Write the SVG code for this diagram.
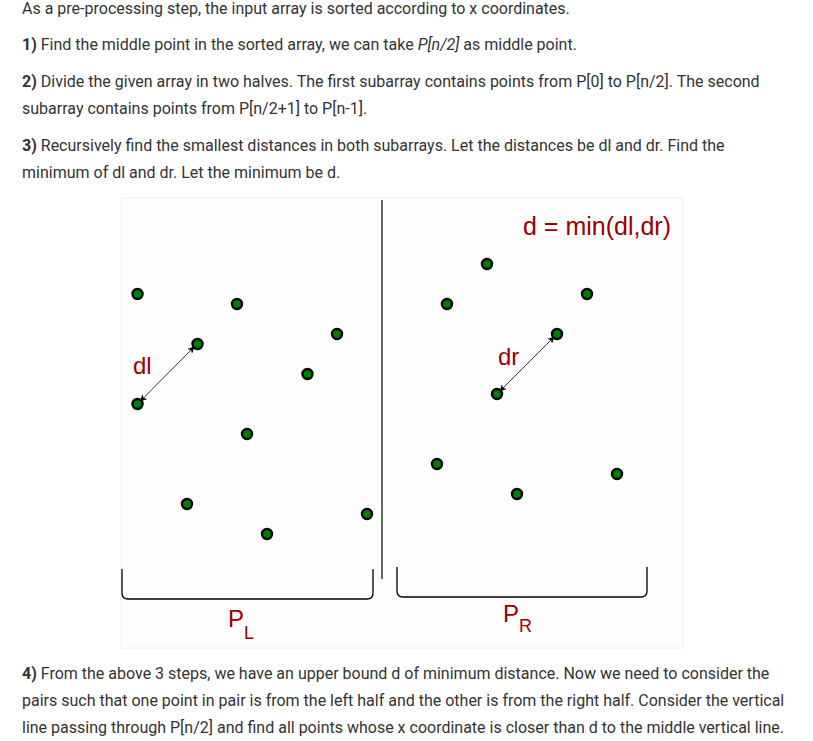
<svg xmlns="http://www.w3.org/2000/svg" width="813" height="741" viewBox="0 0 813 741">
<style>
.t{font-family:Roboto,"Liberation Sans",sans-serif;font-size:16px;fill:#333}
.b{font-weight:bold}
.i{font-style:italic}
.pt{fill:#008000;stroke:#000;stroke-width:2.4}
.lab{font-family:"Liberation Sans",Arial,sans-serif;fill:#990000}
.br{fill:none;stroke:#000;stroke-width:1.3}
.ar{stroke:#000;stroke-width:0.8;fill:none;marker-start:url(#ah);marker-end:url(#ah)}
</style>
<defs>
<marker id="ah" viewBox="0 0 10 10" refX="9" refY="5" markerWidth="7" markerHeight="7" orient="auto-start-reverse" markerUnits="userSpaceOnUse">
<path d="M0,0 L10,5 L0,10 L3,5 Z" fill="#000"/>
</marker>
</defs>
<rect width="813" height="741" fill="#fff"/>
<g id="text-top">
<text class="t" x="22" y="14">As a pre-processing step, the input array is sorted according to x coordinates.</text>
<text class="t" x="22" y="50"><tspan class="b">1)</tspan> Find the middle point in the sorted array, we can take <tspan class="i">P[n/2]</tspan> as middle point.</text>
<text class="t" x="22" y="87"><tspan class="b">2)</tspan> Divide the given array in two halves. The first subarray contains points from P[0] to P[n/2]. The second</text>
<text class="t" x="22" y="114">subarray contains points from P[n/2+1] to P[n-1].</text>
<text class="t" x="22" y="151"><tspan class="b">3)</tspan> Recursively find the smallest distances in both subarrays. Let the distances be dl and dr. Find the</text>
<text class="t" x="22" y="178">minimum of dl and dr. Let the minimum be d.</text>
</g>
<g id="panel">
<rect x="121" y="198" width="562" height="450" fill="#fdfdfd" stroke="#f0f0f0" stroke-width="1"/>
<line x1="382" y1="200" x2="382" y2="579" stroke="#000" stroke-width="1.2"/>
</g>
<g id="connectors">
<line class="ar" x1="140.5" y1="401" x2="194" y2="347"/>
<line class="ar" x1="500" y1="391" x2="554" y2="337"/>
<path id="bracket-left" class="br" d="M122,569 V593 Q122,599 128,599 H367 Q373,599 373,593 V569"/>
<path id="bracket-right" class="br" d="M397,567 V591 Q397,597 403,597 H641 Q647,597 647,591 V567"/>
</g>
<g id="points-left">
<circle class="pt" cx="137.5" cy="294" r="5"/>
<circle class="pt" cx="237" cy="304" r="5"/>
<circle class="pt" cx="197.5" cy="344" r="5"/>
<circle class="pt" cx="337" cy="334" r="5"/>
<circle class="pt" cx="307.5" cy="374" r="5"/>
<circle class="pt" cx="137.5" cy="404" r="5"/>
<circle class="pt" cx="247" cy="434" r="5"/>
<circle class="pt" cx="187" cy="504" r="5"/>
<circle class="pt" cx="267" cy="534" r="5"/>
<circle class="pt" cx="367" cy="514" r="5"/>
</g>
<g id="points-right">
<circle class="pt" cx="487" cy="264" r="5"/>
<circle class="pt" cx="447" cy="304" r="5"/>
<circle class="pt" cx="587" cy="294" r="5"/>
<circle class="pt" cx="557" cy="334" r="5"/>
<circle class="pt" cx="497" cy="394" r="5"/>
<circle class="pt" cx="437" cy="464" r="5"/>
<circle class="pt" cx="517" cy="494" r="5"/>
<circle class="pt" cx="617" cy="474" r="5"/>
</g>
<g id="labels">
<text class="lab" x="133" y="374" font-size="24">dl</text>
<text class="lab" x="498" y="365" font-size="24">dr</text>
<text class="lab" x="523" y="235" font-size="25">d = min(dl,dr)</text>
<text class="lab" x="228" y="627" font-size="24">P<tspan font-size="18" dy="12">L</tspan></text>
<text class="lab" x="503" y="622" font-size="24">P<tspan font-size="18" dy="10">R</tspan></text>
</g>
<g id="text-bottom">
<text class="t" x="22" y="679"><tspan class="b">4)</tspan> From the above 3 steps, we have an upper bound d of minimum distance. Now we need to consider the</text>
<text class="t" x="22" y="706">pairs such that one point in pair is from the left half and the other is from the right half. Consider the vertical</text>
<text class="t" x="22" y="733">line passing through P[n/2] and find all points whose x coordinate is closer than d to the middle vertical line.</text>
</g>
</svg>
